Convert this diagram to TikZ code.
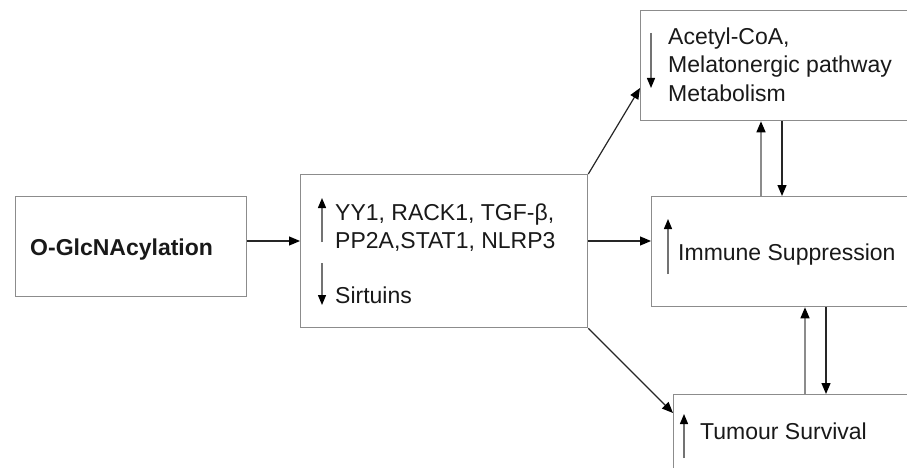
\documentclass[tikz,border=0pt]{standalone}
\usepackage{fontspec}
\setmainfont{Liberation Sans}
\usetikzlibrary{arrows.meta}
\begin{document}
\begin{tikzpicture}[x=1pt,y=-1pt,
  box/.style={draw=black!45, line width=1.3pt, fill=white, inner sep=0pt, anchor=north west},
  arr/.style={-{Triangle[length=11pt,width=9pt,color=black]}, line width=1.2pt, draw=black!85},
  garr/.style={-{Triangle[length=11pt,width=9pt,color=black]}, line width=1.4pt, draw=black!45},
  inarr/.style={-{Triangle[length=10pt,width=8pt,color=black]}, line width=1.3pt, draw=black!55},
  lbl/.style={anchor=base west, inner sep=0pt, font=\fontsize{23}{28}\selectfont, text=black!90}]
\useasboundingbox (0,0) rectangle (907,468);
\clip (0,0) rectangle (907,468);
% boxes
\node[box, minimum width=231pt, minimum height=100pt] (glc) at (15,196) {};
\node[box, minimum width=287pt, minimum height=153pt] (mid) at (300,174) {};
\node[box, minimum width=300pt, minimum height=110pt] (acc) at (640,10) {};
\node[box, minimum width=290pt, minimum height=110pt] (imm) at (651,196) {};
\node[box, minimum width=270pt, minimum height=100pt] (tum) at (673,394) {};
% texts
\node[lbl, font=\bfseries\fontsize{23}{28}\selectfont] (tglc) at (30,255) {O-GlcNAcylation};
\node[lbl] (m1) at (335,220) {YY1, RACK1, TGF-β,};
\node[lbl] (m2) at (335,248) {PP2A,STAT1, NLRP3};
\node[lbl] (m3) at (335,303) {Sirtuins};
\node[lbl] (a1) at (668,45) {Acetyl-CoA,};
\node[lbl] (a2) at (668,73) {Melatonergic pathway};
\node[lbl] (a3) at (668,102) {Metabolism};
\node[lbl] (i1) at (678,260) {Immune Suppression};
\node[lbl] (t1) at (700,439) {Tumour Survival};
% inline arrows
\draw[inarr] (322,242) -- (322,198);
\draw[inarr] (322,263) -- (322,305);
\draw[inarr] (651,33) -- (651,88);
\draw[inarr] (668,274) -- (668,219);
\draw[inarr] (684,458) -- (684,414);
% connectors
\draw[arr] (glc.east |- 0,241) -- (mid.west |- 0,241);
\draw[arr] (mid.east |- 0,241) -- (imm.west |- 0,241);
\draw[arr] (mid.north east) -- (acc.west |- 0,88);
\draw[arr] (mid.south east) -- (tum.west |- 0,413);
\draw[garr] (imm.north -| 761,0) -- (acc.south -| 761,0);
\draw[arr] (acc.south -| 782,0) -- (imm.north -| 782,0);
\draw[garr] (tum.north -| 805,0) -- (imm.south -| 805,0);
\draw[arr] (imm.south -| 826,0) -- (tum.north -| 826,0);
\end{tikzpicture}
\end{document}
